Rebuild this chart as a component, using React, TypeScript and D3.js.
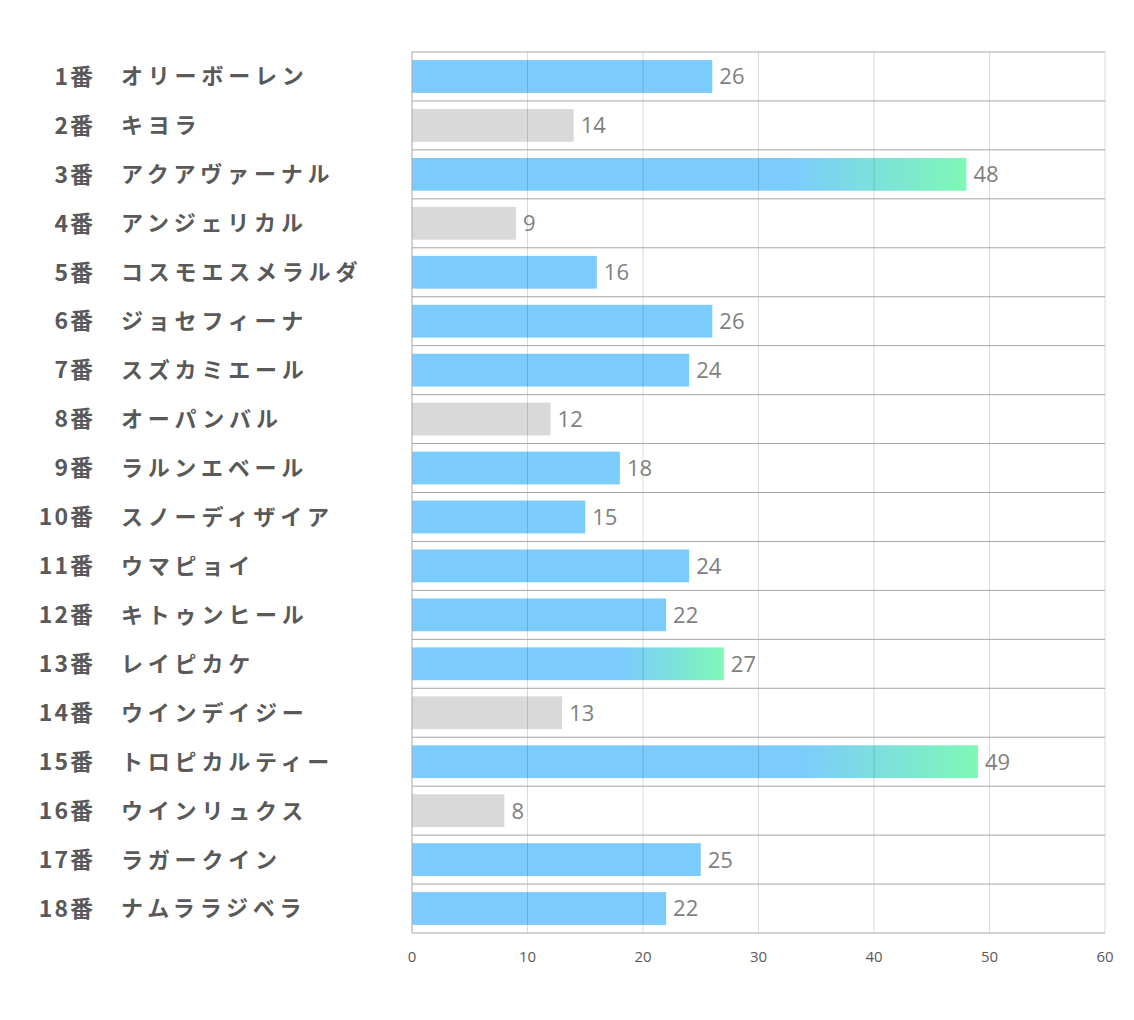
import React from "react";
import * as d3 from "d3";

const numbers = ["1番","2番","3番","4番","5番","6番","7番","8番","9番","10番","11番","12番","13番","14番","15番","16番","17番","18番"];
const names = ["オリーボーレン","キヨラ","アクアヴァーナル","アンジェリカル","コスモエスメラルダ","ジョセフィーナ","スズカミエール","オーパンバル","ラルンエベール","スノーディザイア","ウマピョイ","キトゥンヒール","レイピカケ","ウインデイジー","トロピカルティー","ウインリュクス","ラガークイン","ナムララジベラ"];
const values = [26,14,48,9,16,26,24,12,18,15,24,22,27,13,49,8,25,22];
// bar style: "b" blue, "g" grey, "x" blue-to-green gradient
const kinds = ["b","g","x","g","b","b","b","g","b","b","b","b","x","g","x","g","b","b"];
const ticks = [0,10,20,30,40,50,60];

export default function App() {
  const W = 1134, H = 1020;
  const x0 = 412, x1 = 1105, y0 = 52, y1 = 933;
  const x = d3.scaleLinear().domain([0, 60]).range([x0, x1]);
  const y = d3.scaleBand<number>().domain(d3.range(18)).range([y0, y1]).paddingInner(0.33).paddingOuter(0.165);
  const band = d3.scaleBand<number>().domain(d3.range(18)).range([y0, y1]);
  const fontJP = "'Noto Sans CJK JP', 'Noto Sans', sans-serif";
  const fontNum = "'Open Sans', 'Noto Sans', sans-serif";
  return (
    <svg width={W} height={H} style={{ position: "absolute", left: 0, top: 0, background: "#fff" }}>
      <defs>
        <linearGradient id="grad" x1="0" x2="1" y1="0" y2="0">
          <stop offset="0" stopColor="#7ccbfd" />
          <stop offset="0.68" stopColor="#7ccbfd" />
          <stop offset="1" stopColor="#7ef8b6" />
        </linearGradient>
      </defs>
      {values.map((v, i) => (
        <rect key={"b" + i} x={x(0)} y={y(i)} width={x(v) - x(0)} height={y.bandwidth()}
          fill={kinds[i] === "g" ? "#d9d9d9" : kinds[i] === "x" ? "url(#grad)" : "#7ccbfd"} />
      ))}
      {ticks.slice(1).map((t) => (
        <line key={"v" + t} x1={x(t)} x2={x(t)} y1={y0} y2={y1} stroke="#000" strokeOpacity={0.14} strokeWidth={1} />
      ))}
      {d3.range(19).map((k) => {
        const yy = k < 18 ? band(k)! : y1;
        return <line key={"h" + k} x1={x0} x2={x1} y1={yy} y2={yy} stroke="#a6a6a6" strokeWidth={1} />;
      })}
      <line x1={x0} x2={x0} y1={y0} y2={y1} stroke="#a6a6a6" strokeWidth={1} />
      {values.map((v, i) => (
        <text key={"l" + i} x={x(v) + 7} y={y(i)! + y.bandwidth() / 2} dy="0.36em"
          fontFamily={fontNum} fontSize={22} fill="#7f7f7f">{v}</text>
      ))}
      {numbers.map((n, i) => (
        <text key={"n" + i} x={95} y={band(i)! + band.bandwidth() / 2} dy="0.36em" textAnchor="end"
          fontFamily={fontJP} fontWeight="bold" fontSize={23} fill="#595959" letterSpacing={2}>{n}</text>
      ))}
      {names.map((n, i) => (
        <text key={"m" + i} x={121} y={band(i)! + band.bandwidth() / 2} dy="0.36em"
          fontFamily={fontJP} fontWeight="bold" fontSize={22} fill="#595959" letterSpacing={4.8}>{n}</text>
      ))}
      {ticks.map((t) => (
        <text key={"t" + t} x={x(t)} y={957} dy="0.36em" textAnchor="middle"
          fontFamily={fontNum} fontSize={15} fill="#595959">{t}</text>
      ))}
    </svg>
  );
}
